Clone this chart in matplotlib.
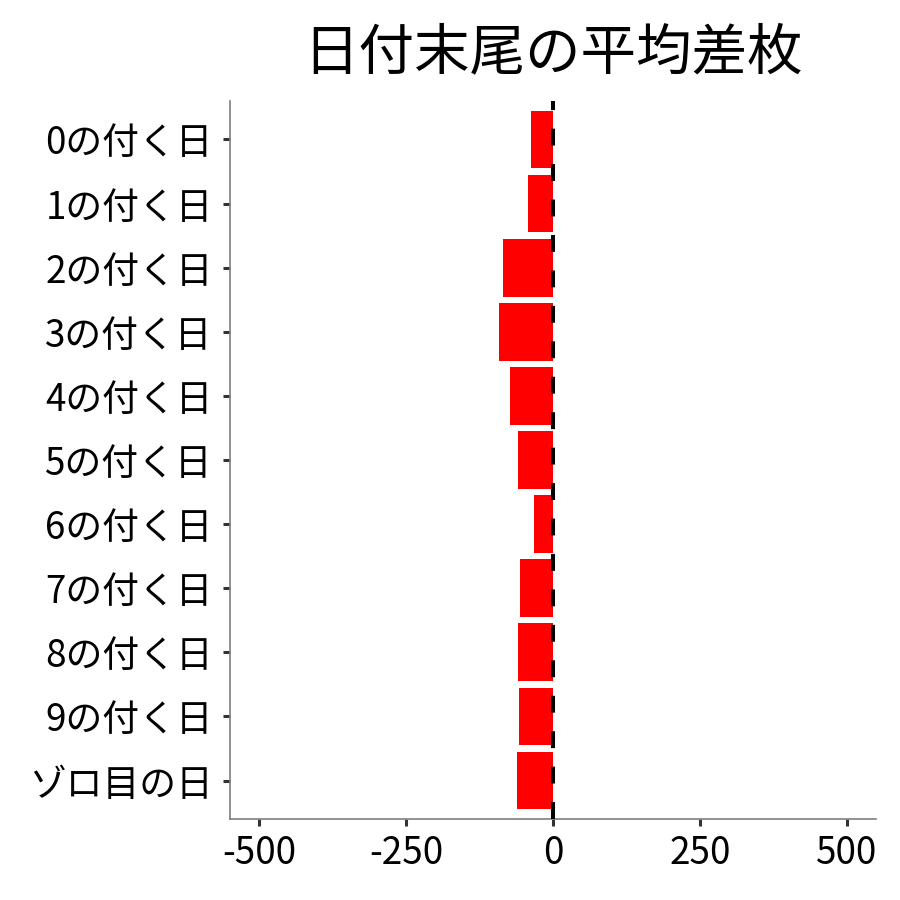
import matplotlib
matplotlib.use("Agg")
import matplotlib.pyplot as plt

plt.rcParams['font.family'] = ['Noto Sans CJK JP', 'DejaVu Sans']

categories = ["0の付く日", "1の付く日", "2の付く日", "3の付く日", "4の付く日",
              "5の付く日", "6の付く日", "7の付く日", "8の付く日", "9の付く日", "ゾロ目の日"]
values = [-38, -43, -85, -92, -74, -60, -33, -57, -60, -58, -62]
xticks = [-500, -250, 0, 250, 500]
title = "日付末尾の平均差枚"

fig = plt.figure(figsize=(9, 9), dpi=100)
ax = fig.add_axes([230/900, (900-819)/900, (876-230)/900, (819-101)/900])

ypos = list(range(len(categories)))
ax.barh(ypos, values, height=0.9, color="#FF0000", zorder=2)
ax.axvline(0, color="black", linestyle=(0, (4.2, 4.6)), linewidth=2.9, zorder=3,
           solid_capstyle="butt", dash_capstyle="butt")

ax.set_yticks(ypos)
ax.set_yticklabels(categories)
ax.set_ylim(len(categories) - 0.4, -0.6)
ax.set_xlim(-550, 550)
ax.set_xticks(xticks)
ax.set_xticklabels([str(v) for v in xticks])

for s in ["top", "right"]:
    ax.spines[s].set_visible(False)
for s in ["left", "bottom"]:
    ax.spines[s].set_color("#7f7f7f")
    ax.spines[s].set_linewidth(1.2)

ax.tick_params(axis="both", which="major", length=5, width=2.2, color="#333333",
               labelsize=26.5, labelcolor="black")
ax.tick_params(axis="y", pad=7.5)
ax.tick_params(axis="x", pad=5.5)

ax.set_title(title, fontsize=40, pad=23)

fig.savefig("out.png", dpi=100, facecolor="white")
